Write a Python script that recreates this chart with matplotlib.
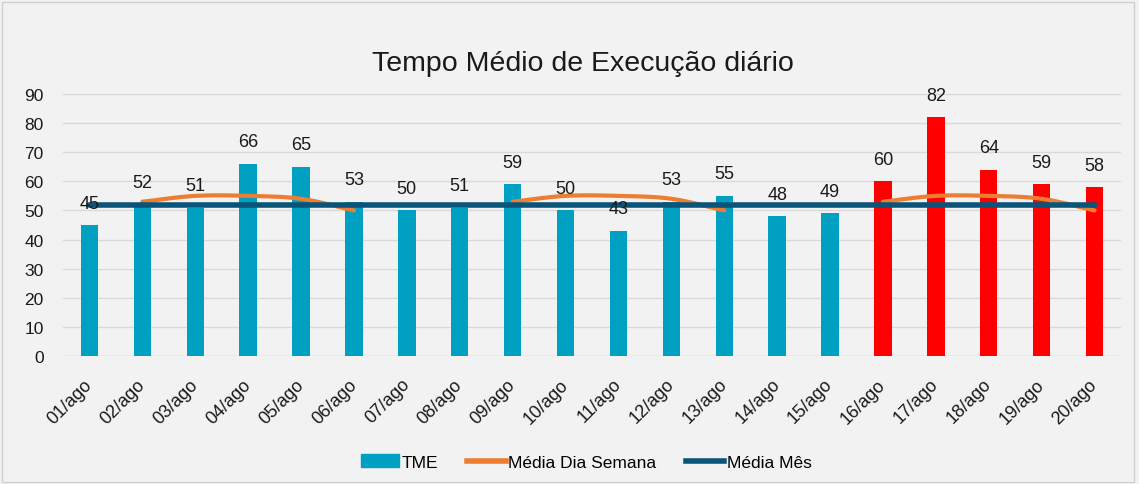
import numpy as np
import matplotlib
matplotlib.use('Agg')
from matplotlib import pyplot as plt
from matplotlib import transforms
from matplotlib.patches import Patch
from matplotlib.lines import Line2D

plt.rcParams['font.family'] = ['Liberation Sans', 'DejaVu Sans']

# Data
dias = ['01/ago', '02/ago', '03/ago', '04/ago', '05/ago', '06/ago', '07/ago', '08/ago',
        '09/ago', '10/ago', '11/ago', '12/ago', '13/ago', '14/ago', '15/ago', '16/ago',
        '17/ago', '18/ago', '19/ago', '20/ago']
tme = [45, 52, 51, 66, 65, 53, 50, 51, 59, 50, 43, 53, 55, 48, 49, 60, 82, 64, 59, 58]
media_dia_semana = [None, 53, 55, 55, 54, 50, None, None, 53, 55, 55, 54, 50, None, None,
                    53, 55, 55, 54, 50]
media_mes = [51.7] * 20
n_azul = 15  # first 15 days in blue, rest in red

bg = '#f2f2f2'
c_bar = '#00a0c3'
c_red = '#ff0000'
c_orange = '#ed7d31'
c_dark = '#0b5479'


def catmull(xs, ys, n=20):
    # smooth curve through points (excel-like smoothing)
    xs = np.asarray(xs, float)
    ys = np.asarray(ys, float)
    px = np.concatenate([[2*xs[0]-xs[1]], xs, [2*xs[-1]-xs[-2]]])
    py = np.concatenate([[2*ys[0]-ys[1]], ys, [2*ys[-1]-ys[-2]]])
    ox, oy = [], []
    for i in range(1, len(px)-2):
        t = np.linspace(0, 1, n, endpoint=(i == len(px)-3))
        for arr, out in ((px, ox), (py, oy)):
            p0, p1, p2, p3 = arr[i-1], arr[i], arr[i+1], arr[i+2]
            out.extend(0.5*((2*p1) + (-p0+p2)*t + (2*p0-5*p1+4*p2-p3)*t**2 + (-p0+3*p1-3*p2+p3)*t**3))
    return ox, oy


fig = plt.figure(figsize=(11.39, 4.85), dpi=100, facecolor=bg)
ax = fig.add_axes([63/1139, 1-357/485, (1121-63)/1139, (357-95)/485])
ax.set_facecolor(bg)

x = np.arange(len(dias))
colors = [c_bar if i < n_azul else c_red for i in range(len(dias))]
ax.bar(x, tme, width=0.33, color=colors, zorder=2)

# Média Dia Semana, in segments
seg_x, seg_y = [], []
for i, v in enumerate(media_dia_semana + [None]):
    if v is None:
        if len(seg_x) > 1:
            sx, sy = catmull(seg_x, seg_y)
            ax.plot(sx, sy, color=c_orange, lw=3, solid_capstyle='round', zorder=3)
        seg_x, seg_y = [], []
    else:
        seg_x.append(x[i])
        seg_y.append(v)

ax.plot(x, media_mes, color=c_dark, lw=4, solid_capstyle='round', zorder=4)

for xi, v in zip(x, tme):
    ax.text(xi, v + 4.6, '{:d}'.format(v), ha='center', va='bottom', fontsize=13,
            color='#1a1a1a', zorder=5)

ax.set_xlim(-0.5, len(dias) - 0.5)
ax.set_ylim(0, 90)
ax.set_yticks(range(0, 91, 10))
ax.set_xticks(x)
ax.set_xticklabels(dias, rotation=45, ha='right', rotation_mode='anchor', fontsize=13,
                   color='#1a1a1a')
ax.tick_params(axis='y', labelsize=12.5, labelcolor='#1a1a1a', length=0, pad=14)
ax.tick_params(axis='x', length=0, pad=14)
offset = transforms.ScaledTranslation(-6/100, 0, fig.dpi_scale_trans)
for lbl in ax.get_xticklabels():
    lbl.set_transform(lbl.get_transform() + offset)
ax.grid(axis='y', color='#d9d9d9', lw=1, zorder=0)
for s in ax.spines.values():
    s.set_visible(False)
ax.axhline(0, color='#d9d9d9', lw=1, zorder=1)

fig.text(583/1139, 1-64/485, 'Tempo Médio de Execução diário', ha='center', va='center',
         fontsize=20.5, color='#1a1a1a')

handles = [Patch(color=c_bar, label='TME'),
           Line2D([0], [0], color=c_orange, lw=4, label='Média Dia Semana'),
           Line2D([0], [0], color=c_dark, lw=4, label='Média Mês')]
fig.legend(handles=handles, loc='center', bbox_to_anchor=(586/1139, 1-463/485), ncol=3,
           frameon=False, fontsize=12.5, handlelength=2.2, handletextpad=0.15,
           columnspacing=1.7)

# outer border
fig.patches.append(plt.Rectangle((0.002, 0.004), 0.994, 0.99, transform=fig.transFigure,
                                 fill=False, edgecolor='#d0d0d0', lw=1))

plt.savefig('out.png', dpi=100, facecolor=bg)
plt.close()
